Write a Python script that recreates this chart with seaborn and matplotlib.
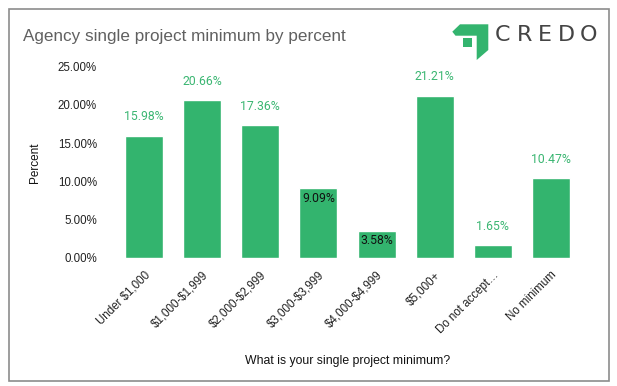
import matplotlib
matplotlib.use("Agg")
import matplotlib.pyplot as plt
from matplotlib.patches import Polygon, Rectangle
import seaborn as sns
import pandas as pd

# Chart data
categories = ["Under $1,000", "$1,000-$1,999", "$2,000-$2,999", "$3,000-$3,999",
              "$4,000-$4,999", "$5,000+", "Do not accept\u2026", "No minimum"]
percents = [15.98, 20.66, 17.36, 9.09, 3.58, 21.21, 1.65, 10.47]
inside_labels = [False, False, False, True, True, False, False, False]
y_ticks = [0, 5, 10, 15, 20, 25]

GREEN = "#33b46e"
LABEL_GREEN = "#3bb672"

sns.set_style("white")
plt.rcParams['font.family'] = ['Liberation Sans', 'DejaVu Sans']
plt.rcParams['text.parse_math'] = False

df = pd.DataFrame({"category": categories, "percent": percents})

W, H = 617, 386
fig = plt.figure(figsize=(W / 100, H / 100), dpi=100)
ax = fig.add_axes([115 / W, 1 - 258 / H, 465 / W, (258 - 66.7) / H])

sns.barplot(data=df, x="category", y="percent", color=GREEN, width=0.655,
            saturation=1, ax=ax)

ax.set_xlim(-0.5, len(categories) - 0.5)
ax.set_ylim(0, 25)
ax.set_yticks(y_ticks)
ax.set_yticklabels([f"{t:.2f}%" for t in y_ticks], fontsize=8.3, color="#222222")
ax.set_xticks(range(len(categories)))
ax.set_xticklabels(categories, rotation=45, ha="right", rotation_mode="anchor",
                   fontsize=8.3, color="#222222")
ax.tick_params(axis="y", length=0, pad=13)
ax.tick_params(axis="x", length=0, pad=8)
for s in ax.spines.values():
    s.set_visible(False)
ax.grid(False)

ax.set_ylabel("Percent", fontsize=8.5, color="#111111", labelpad=12)
ax.set_xlabel("What is your single project minimum?", fontsize=8.8,
              color="#111111", labelpad=14)

# data labels
for i, (v, inside) in enumerate(zip(percents, inside_labels)):
    if inside:
        ax.annotate(f"{v:.2f}%", (i, v), xytext=(0, -7), textcoords="offset points",
                    ha="center", va="center", fontsize=8.8, color="#111111",
                    family="Roboto")
    else:
        ax.annotate(f"{v:.2f}%", (i, v), xytext=(0, 13.5), textcoords="offset points",
                    ha="center", va="center", fontsize=8.8, color=LABEL_GREEN,
                    family="Roboto")

# title
fig.text(23 / W, 1 - 37 / H, "Agency single project minimum by percent",
         fontsize=12.3, color="#606060", ha="left", va="center")

# logo
def px(x, y):
    return (x / W, 1 - y / H)

logo = [(452.3, 31.7), (460, 24.3), (488.3, 24.3), (488.3, 50),
        (476.7, 60), (476.7, 35.7), (455.5, 35.7)]
fig.patches.append(Polygon([px(*p) for p in logo], closed=True, facecolor=GREEN,
                           edgecolor="none", transform=fig.transFigure))
fig.patches.append(Rectangle(px(463.3, 46.7), 8.5 / W, 9 / H, facecolor=GREEN,
                             edgecolor="none", transform=fig.transFigure))
for ch, cx in zip("CREDO", [503, 524.5, 545, 566.7, 588.3]):
    fig.text(cx / W, 1 - 35.3 / H, ch, fontsize=16, color="#444444",
             ha="center", va="center", family="DejaVu Sans")

# border
fig.patches.append(Rectangle((8.5 / W, 1 - 381 / H), 600.5 / W, 372 / H,
                             facecolor="none", edgecolor="#8c8c8c", linewidth=1.2,
                             transform=fig.transFigure))

fig.savefig("out.png", dpi=100)
